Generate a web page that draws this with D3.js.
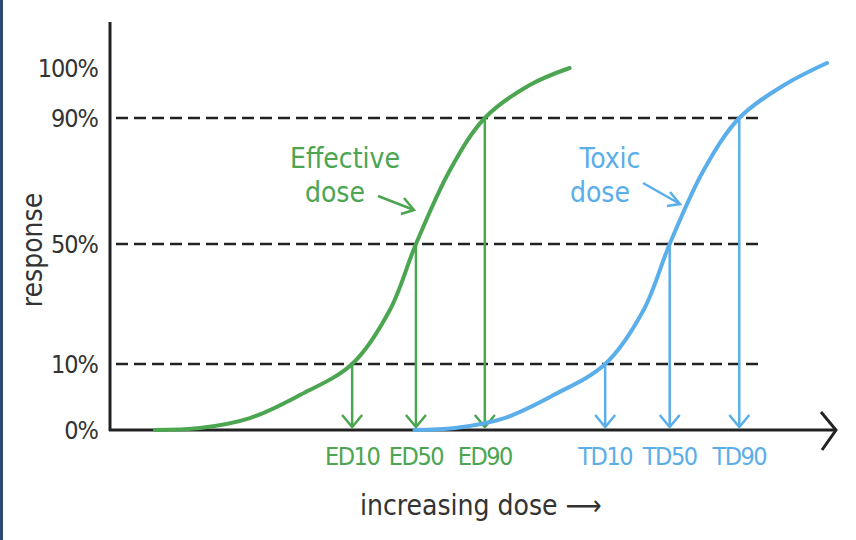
<!DOCTYPE html>
<html><head><meta charset="utf-8">
<script src="https://cdn.jsdelivr.net/npm/d3@7"></script>
<style>body{margin:0;background:#fff}text{font-family:"DejaVu Sans Condensed","Liberation Sans Narrow",sans-serif;font-stretch:condensed;font-weight:300}</style>
</head><body><svg id="chart" width="856" height="540"></svg>
<script>
const yTicks = [0, 10, 50, 90, 100];
const yLabels = ["0%", "10%", "50%", "90%", "100%"];
const guideLevels = [10, 50, 90];
const effDose = [6.2, 12.4, 19.3, 26.2, 33.4, 38.6, 42.2, 46.9, 51.7, 57.9, 63.4];
const effResp = [0, 0.3, 1.8, 5.3, 10, 28, 50, 73.5, 90, 96.6, 100];
const toxDose = [42.0, 47.6, 54.4, 61.2, 68.3, 73.6, 77.2, 81.9, 86.8, 93.0, 98.9];
const toxResp = [0, 0.3, 1.8, 5.3, 10, 28, 50, 73.5, 90, 96.6, 101];
const effMarks = [{d: 33.4, r: 10, t: "ED10"}, {d: 42.2, r: 50, t: "ED50"}, {d: 51.7, r: 90, t: "ED90"}];
const toxMarks = [{d: 68.3, r: 10, t: "TD10"}, {d: 77.2, r: 50, t: "TD50"}, {d: 86.8, r: 90, t: "TD90"}];

const green = "#4ba551", blue = "#5aaee9";
const svg = d3.select("#chart");
const x = d3.scaleLinear().domain([0, 100]).range([110, 835]);
const y = d3.scaleLinear().domain(yTicks).range([430, 364, 244, 118, 68]);

svg.append("rect").attr("width", 3).attr("height", 540).attr("fill", "#2f4a70");

// guides
svg.selectAll(".guide").data(guideLevels).join("line")
    .attr("x1", 116).attr("x2", 762)
    .attr("y1", d => y(d)).attr("y2", d => y(d))
    .attr("stroke", "#222").attr("stroke-width", 2.5).attr("stroke-dasharray", "12 6");

// axes
svg.append("line").attr("x1", 110).attr("x2", 110).attr("y1", 22).attr("y2", 431)
    .attr("stroke", "#222").attr("stroke-width", 3);
svg.append("line").attr("x1", 109).attr("x2", 835).attr("y1", 430).attr("y2", 430)
    .attr("stroke", "#222").attr("stroke-width", 3);
svg.append("path").attr("d", "M821,412 L836,430 L822,450").attr("fill", "none")
    .attr("stroke", "#222").attr("stroke-width", 3);

svg.selectAll(".ylab").data(yTicks).join("text")
    .attr("x", 98).attr("y", d => y(d) + 9).attr("text-anchor", "end")
    .attr("font-size", 25).attr("letter-spacing", -1).attr("fill", "#333").text((d, i) => yLabels[i]);

svg.append("text").attr("transform", "translate(42,250) rotate(-90)")
    .attr("text-anchor", "middle").attr("font-size", 28).attr("fill", "#333").text("response");
svg.append("text").attr("x", 360).attr("y", 515).attr("font-size", 28).attr("fill", "#333")
    .text("increasing dose ⟶");

const line = d3.line().x(d => x(d[0])).y(d => y(d[1])).curve(d3.curveCatmullRom.alpha(0.5));
function drawSeries(dose, resp, marks, col, lab, lx) {
    svg.append("path").datum(dose.map((d, i) => [d, resp[i]])).attr("d", line)
        .attr("fill", "none").attr("stroke", col).attr("stroke-width", 4).attr("stroke-linecap", "round");
    marks.forEach(m => {
        const px = x(m.d);
        svg.append("line").attr("x1", px).attr("x2", px).attr("y1", y(m.r)).attr("y2", 427)
            .attr("stroke", col).attr("stroke-width", 2.5);
        svg.append("path").attr("d", `M${px - 10},${415} L${px},${427} L${px + 10},${415}`)
            .attr("fill", "none").attr("stroke", col).attr("stroke-width", 2.5);
        svg.append("text").attr("x", px).attr("y", 465).attr("text-anchor", "middle")
            .attr("font-size", 25).attr("letter-spacing", -1.5).attr("fill", col).text(m.t);
    });
    const t = svg.append("text").attr("font-size", 28).attr("fill", col).attr("text-anchor", "middle");
    t.append("tspan").attr("x", lx).attr("y", 168).text(lab[0]);
    t.append("tspan").attr("x", lx - 10).attr("y", 202).text(lab[1]);
}
drawSeries(effDose, effResp, effMarks, green, ["Effective", "dose"], 345);
drawSeries(toxDose, toxResp, toxMarks, blue, ["Toxic", "dose"], 610);

svg.append("path").attr("d", "M378,196 L414,210 M404,198 L414,210 L401,214")
    .attr("fill", "none").attr("stroke", green).attr("stroke-width", 2.5);
svg.append("path").attr("d", "M643,183 L680,204 M670,192 L680,204 L667,206")
    .attr("fill", "none").attr("stroke", blue).attr("stroke-width", 2.5);
</script></body></html>
